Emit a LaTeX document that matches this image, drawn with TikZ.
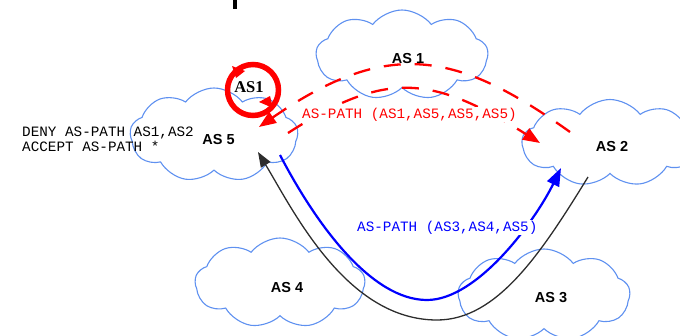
\documentclass[tikz,border=0pt]{standalone}
\usepackage{fontspec}
\setmainfont{Liberation Sans}
\newfontfamily\monofont{Liberation Mono}
\newfontfamily\seriffont{Liberation Serif}
\usetikzlibrary{shapes.symbols,arrows.meta}
\definecolor{cloudblue}{RGB}{95,145,240}
\definecolor{darkline}{RGB}{45,45,45}
\begin{document}
\begin{tikzpicture}[x=1pt,y=-1pt,
  cloudshape/.style={cloud, cloud puffs=9, cloud puff arc=105, draw=cloudblue, line width=1.1pt, inner sep=0pt},
  aslabel/.style={font=\fontsize{14.5}{16}\selectfont\bfseries, anchor=base, inner sep=0pt},
  monotext/.style={font=\monofont\fontsize{14.3}{15}\selectfont, anchor=base west, inner sep=0pt},
  redpath/.style={draw=red, line width=2.3pt, dash pattern=on 17pt off 14pt},
  redtip/.style={-{Triangle[length=17pt,width=13pt]}},
]
\useasboundingbox (0,0) rectangle (680,335);
\fill[black] (233,0) rectangle (237,9);
% clouds
\node[cloudshape, minimum width=168pt, minimum height=94pt] (c5) at (214,135) {};
\node[cloudshape, minimum width=172pt, minimum height=90pt] (c1) at (402,55) {};
\node[cloudshape, minimum width=176pt, minimum height=87pt] (c2) at (610,143) {};
\node[cloudshape, minimum width=170pt, minimum height=90pt] (c4) at (280,283) {};
\node[cloudshape, minimum width=172pt, minimum height=92pt] (c3) at (544,295) {};
% cloud labels
\node[aslabel] (l5) at (218.5,144) {AS 5};
\node[aslabel] (l1) at (408,63) {AS 1};
\node[aslabel] (l2) at (612,151) {AS 2};
\node[aslabel] (l4) at (287,292) {AS 4};
\node[aslabel] (l3) at (551,302) {AS 3};
% endpoints
\coordinate (a0) at (570,132);
\coordinate (a1) at (259,127);
\coordinate (b0) at (288,133);
\coordinate (b1) at (540,143);
\coordinate (k0) at (588,177);
\coordinate (kb) at (437,320);
\coordinate (k1) at (258,152);
\coordinate (u0) at (280,155);
\coordinate (ub) at (427,300);
\coordinate (u1) at (561,168);
% red dashed arcs
\draw[redpath, redtip] (a0) .. controls (458,52) and (389,37) .. (a1);
\draw[redpath, redtip] (b0) .. controls (386,70) and (432,75) .. (b1);
% black arrow
\draw[darkline, line width=1.3pt, -{Triangle[length=15pt,width=11pt]}]
  (k0) .. controls (541,253.5) and (497,320) .. (kb)
       .. controls (347,320) and (294,212) .. (k1);
% blue arrow
\draw[blue, line width=2.2pt, -{Triangle[length=18pt,width=13pt]}]
  (u0) .. controls (317,226) and (372,300) .. (ub)
       .. controls (477,300) and (534.6,221.9) .. (u1);
% texts
\node[monotext] (deny) at (22,136.7) {DENY AS-PATH AS1,AS2};
\node[monotext] (accept) at (22,151.7) {ACCEPT AS-PATH *};
\node[monotext, text=red, fill=white, inner xsep=2pt, inner ysep=1pt] (rl) at (300,118.5) {AS-PATH (AS1,AS5,AS5,AS5)};
\node[monotext, text=blue, fill=white, inner xsep=2pt, inner ysep=1pt] (bl) at (355,231) {AS-PATH (AS3,AS4,AS5)};
% loop circle
\node[circle, draw=red, line width=5.5pt, minimum size=51pt, inner sep=0pt] (loop) at (253,90) {};
\fill[red] (232,66) -- (245,71) -- (236,78) -- cycle;
\fill[red] (273,108) -- (259,102) -- (270,96) -- cycle;
\node[font=\seriffont\fontsize{16.5}{18}\selectfont\bfseries, anchor=base, inner sep=0pt] (as1) at (249,92) {AS1};
\end{tikzpicture}
\end{document}
